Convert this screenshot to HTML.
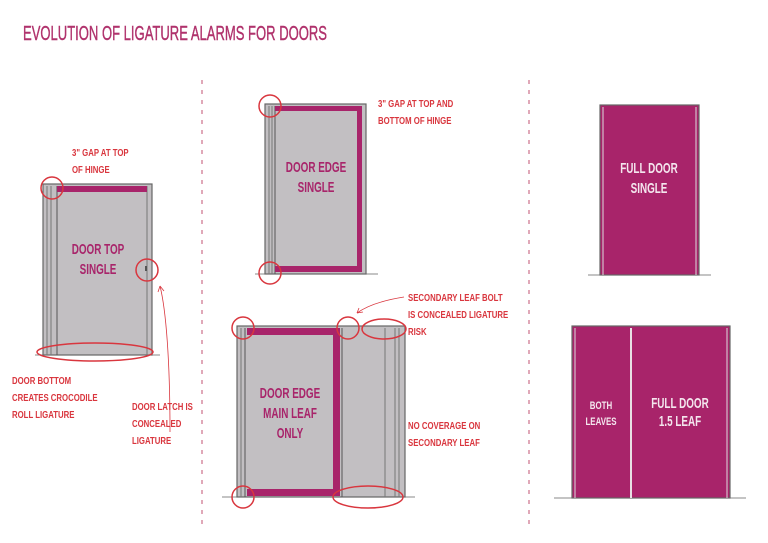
<!DOCTYPE html>
<html><head><meta charset="utf-8"><style>
html,body{margin:0;padding:0;background:#fff;}
svg{display:block;}
text{font-family:"Liberation Sans",sans-serif;font-weight:bold;}
.r{fill:#d9363e;font-size:10px;}
.m{fill:#a8246a;font-size:15px;}
.w{fill:#f4e6ee;font-size:15px;}
</style></head><body>
<svg width="768" height="543" viewBox="0 0 768 543" xmlns="http://www.w3.org/2000/svg">
<text x="23" y="40" font-size="20" fill="#b0326c" stroke="#b0326c" stroke-width="0.4" style="font-weight:normal" textLength="304" lengthAdjust="spacingAndGlyphs">EVOLUTION OF LIGATURE ALARMS FOR DOORS</text>
<line x1="202" y1="80" x2="202" y2="530" stroke="#c05070" stroke-width="1" stroke-dasharray="4,6"/>
<line x1="529" y1="80" x2="529" y2="530" stroke="#c05070" stroke-width="1" stroke-dasharray="4,6"/>

<!-- Door 1 -->
<line x1="35" y1="355" x2="160" y2="355" stroke="#888" stroke-width="1"/>
<rect x="43" y="184" width="109" height="171" fill="#c2bfc2" stroke="#666" stroke-width="1.2"/>
<line x1="47" y1="186" x2="47" y2="355" stroke="#777"/>
<line x1="51" y1="186" x2="51" y2="355" stroke="#777"/>
<line x1="57" y1="186" x2="57" y2="355" stroke="#555"/>
<line x1="147" y1="186" x2="147" y2="355" stroke="#777"/>
<rect x="57" y="186" width="90" height="6" fill="#a8246a"/>
<rect x="145" y="266" width="2" height="5" fill="#555"/>
<g transform="translate(98,254) scale(0.66,1)"><text class="m" text-anchor="middle">DOOR TOP</text></g>
<g transform="translate(98,274) scale(0.66,1)"><text class="m" text-anchor="middle">SINGLE</text></g>
<circle cx="52" cy="188" r="11" fill="none" stroke="#d9363e" stroke-width="1.5"/>
<circle cx="147" cy="270" r="11" fill="none" stroke="#d9363e" stroke-width="1.5"/>
<ellipse cx="95" cy="352" rx="58" ry="9" fill="none" stroke="#d9363e" stroke-width="1.5"/>
<path d="M170 432 C170 360 166 310 160 286" fill="none" stroke="#d9363e" stroke-width="0.8"/>
<path d="M160 286 l-2 6 M160 286 l4 5" stroke="#d9363e" stroke-width="0.8"/>
<g transform="translate(72,156) scale(0.78,1)"><text class="r">3" GAP AT TOP</text></g>
<g transform="translate(72,173) scale(0.78,1)"><text class="r">OF HINGE</text></g>
<g transform="translate(12,384) scale(0.78,1)"><text class="r">DOOR BOTTOM</text></g>
<g transform="translate(12,401) scale(0.78,1)"><text class="r">CREATES CROCODILE</text></g>
<g transform="translate(12,418) scale(0.78,1)"><text class="r">ROLL LIGATURE</text></g>
<g transform="translate(132,410) scale(0.78,1)"><text class="r">DOOR LATCH IS</text></g>
<g transform="translate(132,427) scale(0.78,1)"><text class="r">CONCEALED</text></g>
<g transform="translate(132,444) scale(0.78,1)"><text class="r">LIGATURE</text></g>

<!-- Door 2 -->
<line x1="255" y1="274" x2="378" y2="274" stroke="#888"/>
<rect x="265" y="104" width="101" height="170" fill="#c2bfc2" stroke="#666" stroke-width="1.2"/>
<line x1="269" y1="106" x2="269" y2="274" stroke="#777"/>
<line x1="272" y1="106" x2="272" y2="274" stroke="#777"/>
<line x1="275" y1="106" x2="275" y2="274" stroke="#555"/>
<path d="M275 106 H362 V272 H275 V266 H357 V111 H275 Z" fill="#a8246a"/>
<g transform="translate(316,172) scale(0.66,1)"><text class="m" text-anchor="middle">DOOR EDGE</text></g>
<g transform="translate(316,192) scale(0.66,1)"><text class="m" text-anchor="middle">SINGLE</text></g>
<circle cx="270" cy="106" r="11" fill="none" stroke="#d9363e" stroke-width="1.5"/>
<circle cx="270" cy="273" r="11" fill="none" stroke="#d9363e" stroke-width="1.5"/>
<g transform="translate(378,107) scale(0.78,1)"><text class="r">3" GAP AT TOP AND</text></g>
<g transform="translate(378,124) scale(0.78,1)"><text class="r">BOTTOM OF HINGE</text></g>

<!-- Door 3 -->
<line x1="222" y1="497" x2="415" y2="497" stroke="#888"/>
<rect x="237" y="326" width="168" height="171" fill="#c2bfc2" stroke="#666" stroke-width="1.2"/>
<line x1="241" y1="328" x2="241" y2="497" stroke="#777"/>
<line x1="245" y1="328" x2="245" y2="497" stroke="#555"/>
<line x1="342" y1="328" x2="342" y2="497" stroke="#555"/>
<line x1="385" y1="328" x2="385" y2="497" stroke="#777"/>
<line x1="395" y1="328" x2="395" y2="497" stroke="#777"/>
<line x1="399" y1="328" x2="399" y2="497" stroke="#777"/>
<path d="M247 328 H340 V496 H247 V489 H333 V335 H247 Z" fill="#a8246a"/>
<g transform="translate(290,398) scale(0.66,1)"><text class="m" text-anchor="middle">DOOR EDGE</text></g>
<g transform="translate(290,418) scale(0.66,1)"><text class="m" text-anchor="middle">MAIN LEAF</text></g>
<g transform="translate(290,438) scale(0.66,1)"><text class="m" text-anchor="middle">ONLY</text></g>
<circle cx="243" cy="328" r="11" fill="none" stroke="#d9363e" stroke-width="1.5"/>
<circle cx="348" cy="328" r="11" fill="none" stroke="#d9363e" stroke-width="1.5"/>
<ellipse cx="384" cy="329" rx="22" ry="10" fill="none" stroke="#d9363e" stroke-width="1.5"/>
<circle cx="243" cy="497" r="11" fill="none" stroke="#d9363e" stroke-width="1.5"/>
<ellipse cx="368" cy="497" rx="35" ry="11" fill="none" stroke="#d9363e" stroke-width="1.5"/>
<path d="M404 297 C385 300 368 305 357 313" fill="none" stroke="#d9363e" stroke-width="0.8"/>
<path d="M357 313 l6 -1 M357 313 l2 -5" stroke="#d9363e" stroke-width="0.8"/>
<g transform="translate(408,301) scale(0.78,1)"><text class="r">SECONDARY LEAF BOLT</text></g>
<g transform="translate(408,318) scale(0.78,1)"><text class="r">IS CONCEALED LIGATURE</text></g>
<g transform="translate(408,335) scale(0.78,1)"><text class="r">RISK</text></g>
<g transform="translate(408,429) scale(0.78,1)"><text class="r">NO COVERAGE ON</text></g>
<g transform="translate(408,446) scale(0.78,1)"><text class="r">SECONDARY LEAF</text></g>

<!-- Full door single -->
<line x1="588" y1="275" x2="711" y2="275" stroke="#888"/>
<rect x="600" y="105" width="99" height="170" fill="#a8246a" stroke="#666" stroke-width="1.2"/>
<line x1="603" y1="107" x2="603" y2="275" stroke="#ddd" stroke-width="1"/>
<line x1="696" y1="107" x2="696" y2="275" stroke="#ddd" stroke-width="1"/>
<g transform="translate(649,173) scale(0.66,1)"><text class="w" text-anchor="middle">FULL DOOR</text></g>
<g transform="translate(649,193) scale(0.66,1)"><text class="w" text-anchor="middle">SINGLE</text></g>

<!-- Full door 1.5 leaf -->
<line x1="554" y1="498" x2="746" y2="498" stroke="#888"/>
<rect x="572" y="326" width="158" height="172" fill="#a8246a" stroke="#666" stroke-width="1.2"/>
<line x1="575" y1="328" x2="575" y2="498" stroke="#ddd"/>
<line x1="727" y1="328" x2="727" y2="498" stroke="#ddd"/>
<line x1="631" y1="328" x2="631" y2="498" stroke="#e8e0e4" stroke-width="2"/>
<g transform="translate(601,409) scale(0.72,1)"><text text-anchor="middle" fill="#f4e6ee" font-size="11">BOTH</text></g>
<g transform="translate(601,425) scale(0.72,1)"><text text-anchor="middle" fill="#f4e6ee" font-size="11">LEAVES</text></g>
<g transform="translate(680,408) scale(0.66,1)"><text class="w" text-anchor="middle">FULL DOOR</text></g>
<g transform="translate(680,426) scale(0.66,1)"><text class="w" text-anchor="middle">1.5 LEAF</text></g>
</svg>
</body></html>
